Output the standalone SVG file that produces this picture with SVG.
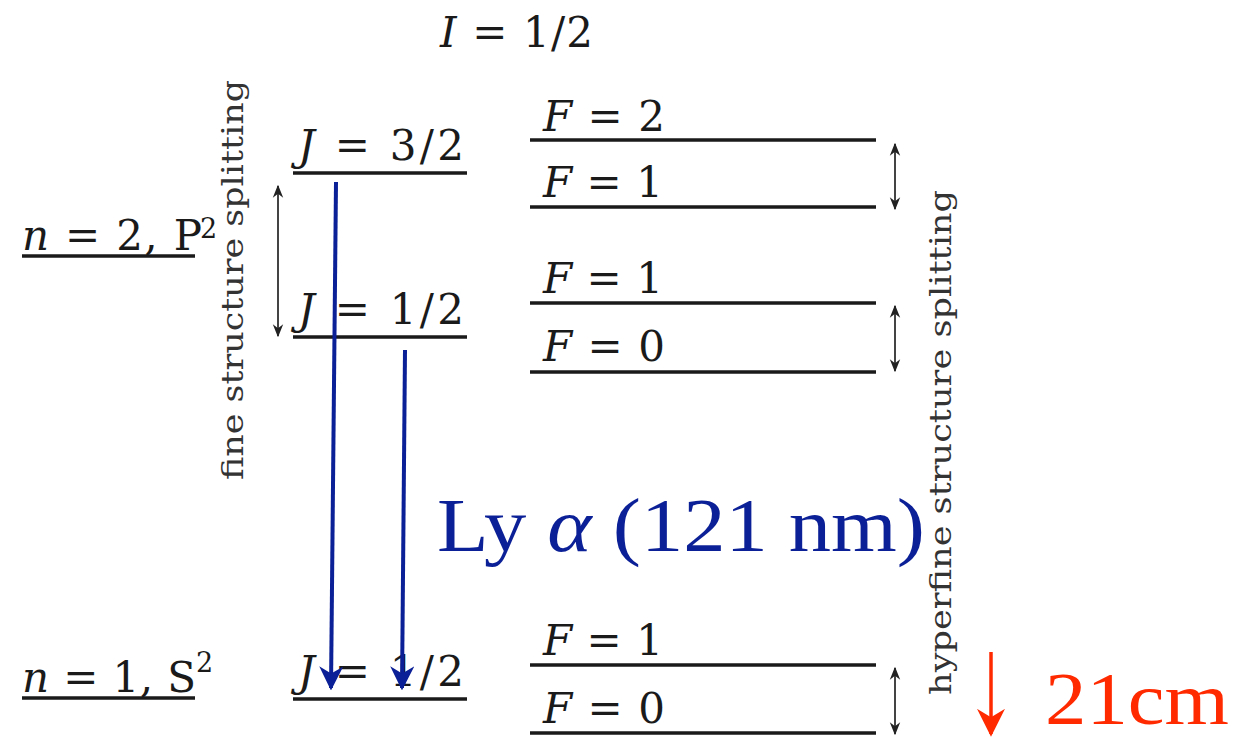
<svg xmlns="http://www.w3.org/2000/svg" width="1252" height="738" viewBox="0 0 1252 738">
<style>
.lvl{stroke:#1a1a1a;stroke-width:3.5;fill:none}
.lab{font-family:"DejaVu Serif",serif;font-size:42px;fill:#1a1a1a}
.it{font-style:italic}
.sup{font-family:"DejaVu Serif",serif;font-size:27px;fill:#1a1a1a}
.rot{font-family:"DejaVu Serif",serif;font-size:29px;fill:#333}
.dbl{stroke:#444;stroke-width:2;fill:none;marker-start:url(#gs);marker-end:url(#ge)}
.blue{stroke:#0b1f96;stroke-width:4;fill:none;marker-end:url(#bh)}
</style>
<defs>
<marker id="ge" viewBox="0 0 10 10" refX="9" refY="5" markerWidth="6.5" markerHeight="6.5" orient="auto" markerUnits="strokeWidth"><path d="M0,1 L10,5 L0,9 L3,5 Z" fill="#222"/></marker>
<marker id="gs" viewBox="0 0 10 10" refX="1" refY="5" markerWidth="6.5" markerHeight="6.5" orient="auto" markerUnits="strokeWidth"><path d="M10,1 L0,5 L10,9 L7,5 Z" fill="#222"/></marker>
<marker id="bh" viewBox="0 0 10 10" refX="9" refY="5" markerWidth="6" markerHeight="6" orient="auto" markerUnits="strokeWidth"><path d="M0,0 L10,5 L0,10 L3,5 Z" fill="#0b1f96"/></marker>
<marker id="rh" viewBox="0 0 10 10" refX="9" refY="5" markerWidth="8" markerHeight="8" orient="auto" markerUnits="strokeWidth"><path d="M0,0 L10,5 L0,10 L3,5 Z" fill="#ff2a00"/></marker>
</defs>

<text class="lab" x="440" y="47" textLength="153" lengthAdjust="spacing"><tspan class="it">I</tspan> = 1/2</text>

<g id="n2">
<line class="lvl" x1="22" y1="256" x2="195" y2="256"/>
<text class="lab" x="22" y="250" textLength="180" lengthAdjust="spacing"><tspan class="it">n</tspan> = 2, P</text>
<text class="sup" x="200" y="238">2</text>
</g>
<g id="n1">
<line class="lvl" x1="22" y1="698" x2="195" y2="698"/>
<text class="lab" x="22" y="692" textLength="174" lengthAdjust="spacing"><tspan class="it">n</tspan> = 1, S</text>
<text class="sup" x="196" y="672">2</text>
</g>

<g id="J32">
<line class="lvl" x1="293" y1="173" x2="467" y2="173"/>
<text class="lab" x="298" y="160" textLength="166" lengthAdjust="spacing"><tspan class="it">J</tspan> = 3/2</text>
</g>
<g id="J12a">
<line class="lvl" x1="293" y1="337" x2="467" y2="337"/>
<text class="lab" x="298" y="324" textLength="166" lengthAdjust="spacing"><tspan class="it">J</tspan> = 1/2</text>
</g>
<g id="J12b">
<line class="lvl" x1="293" y1="699" x2="467" y2="699"/>
<text class="lab" x="298" y="686" textLength="166" lengthAdjust="spacing"><tspan class="it">J</tspan> = 1/2</text>
</g>

<g id="F2">
<line class="lvl" x1="530" y1="140" x2="876" y2="140"/>
<text class="lab" x="543" y="131" textLength="122" lengthAdjust="spacing"><tspan class="it">F</tspan> = 2</text>
</g>
<g id="F1a">
<line class="lvl" x1="530" y1="207" x2="876" y2="207"/>
<text class="lab" x="543" y="197" textLength="120" lengthAdjust="spacing"><tspan class="it">F</tspan> = 1</text>
</g>
<g id="F1b">
<line class="lvl" x1="530" y1="303" x2="876" y2="303"/>
<text class="lab" x="543" y="293" textLength="120" lengthAdjust="spacing"><tspan class="it">F</tspan> = 1</text>
</g>
<g id="F0a">
<line class="lvl" x1="530" y1="372" x2="876" y2="372"/>
<text class="lab" x="543" y="361" textLength="122" lengthAdjust="spacing"><tspan class="it">F</tspan> = 0</text>
</g>
<g id="F1c">
<line class="lvl" x1="530" y1="665" x2="876" y2="665"/>
<text class="lab" x="543" y="655" textLength="120" lengthAdjust="spacing"><tspan class="it">F</tspan> = 1</text>
</g>
<g id="F0b">
<line class="lvl" x1="530" y1="733" x2="876" y2="733"/>
<text class="lab" x="543" y="723" textLength="122" lengthAdjust="spacing"><tspan class="it">F</tspan> = 0</text>
</g>

<text class="rot" transform="translate(243,480) rotate(-90)" textLength="400" lengthAdjust="spacingAndGlyphs">fine structure splitting</text>
<text class="rot" transform="translate(951,695) rotate(-90)" textLength="505" lengthAdjust="spacingAndGlyphs">hyperfine structure splitting</text>

<text x="437" y="551" font-family="'Liberation Serif',serif" font-size="76" fill="#0b1f96" textLength="488" lengthAdjust="spacingAndGlyphs">Ly <tspan font-style="italic">α</tspan> (121 nm)</text>

<g id="connectors">
<line class="dbl" x1="278" y1="186" x2="278" y2="336"/>
<line class="dbl" x1="895" y1="144" x2="895" y2="209"/>
<line class="dbl" x1="895" y1="306" x2="895" y2="371"/>
<line class="dbl" x1="895" y1="668" x2="895" y2="734"/>
<line class="blue" x1="336" y1="182" x2="331" y2="688"/>
<line class="blue" x1="405" y1="350" x2="402" y2="688"/>
<line x1="991" y1="652" x2="991" y2="734" stroke="#ff2a00" stroke-width="3.5" marker-end="url(#rh)"/>
</g>

<text x="1045" y="724" font-family="'Liberation Serif',serif" font-size="74" fill="#ff2a00" textLength="184" lengthAdjust="spacingAndGlyphs">21cm</text>
</svg>
